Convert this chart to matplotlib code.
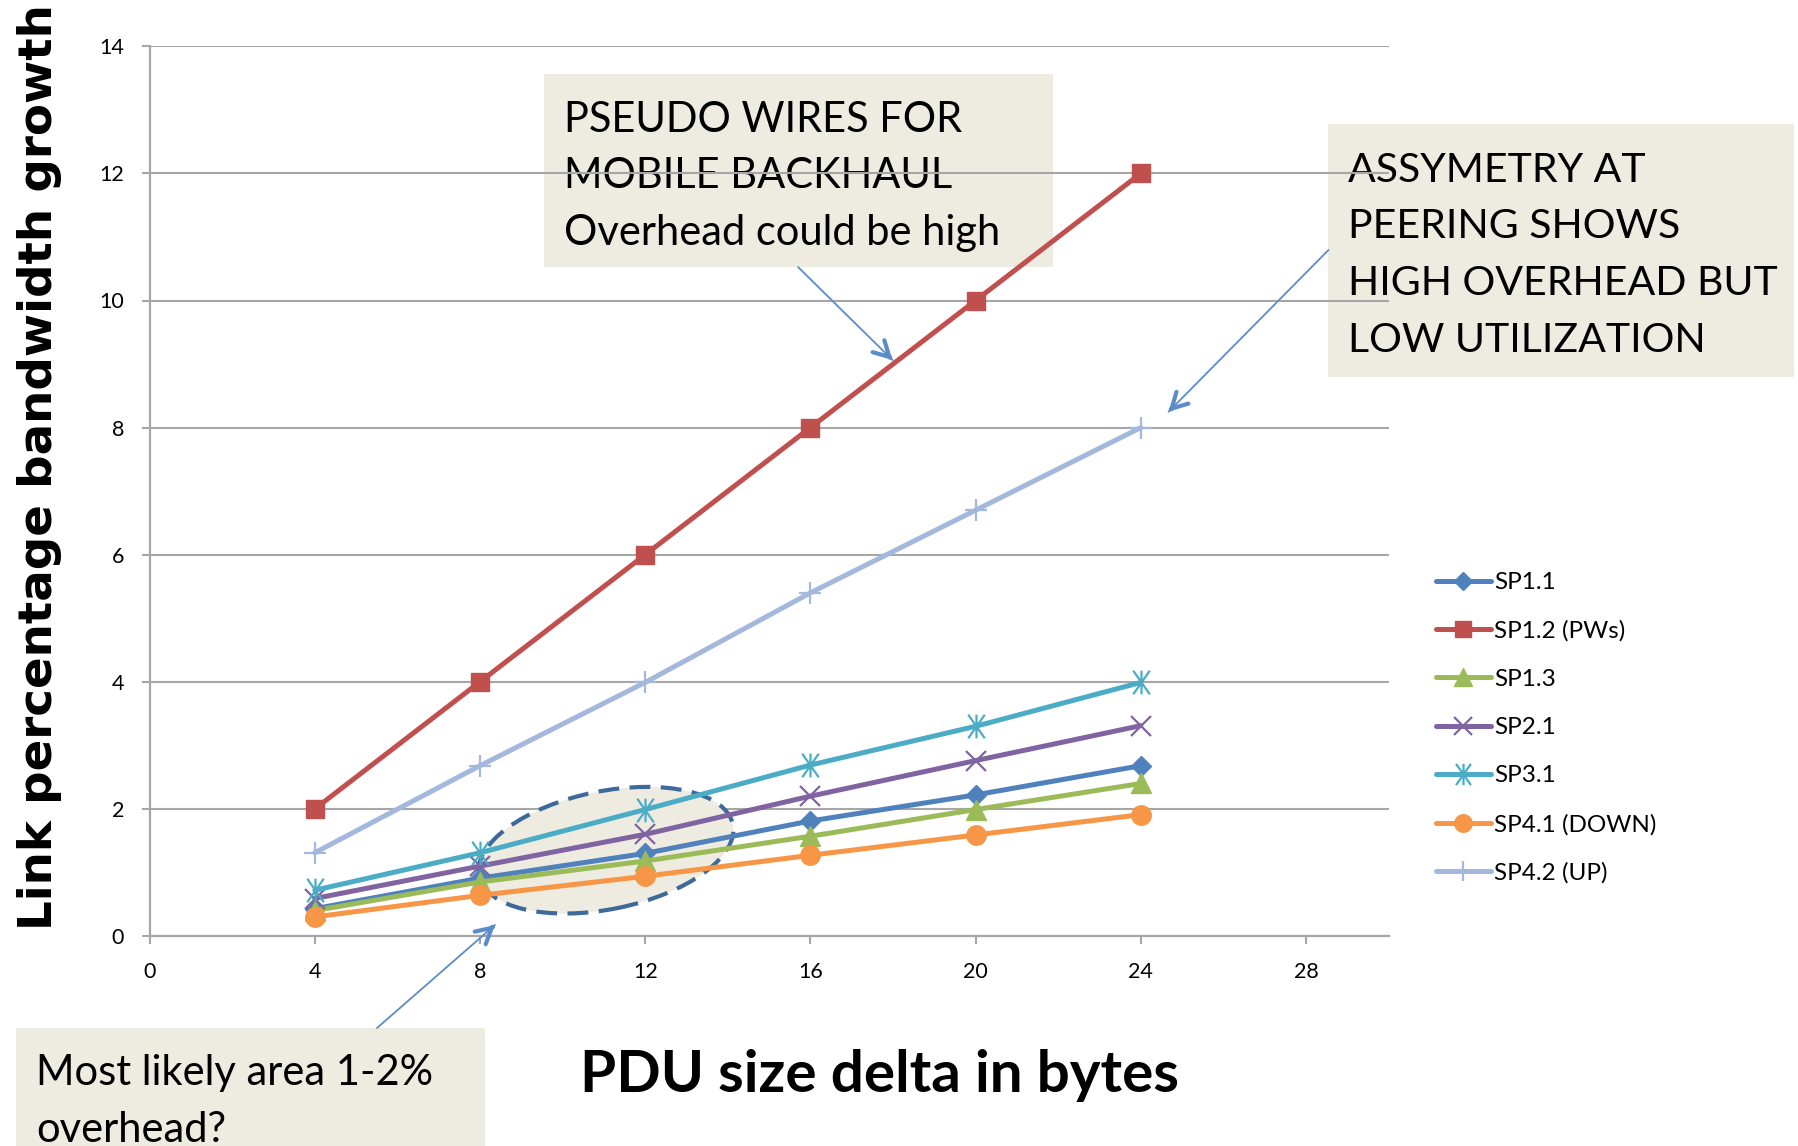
import matplotlib
matplotlib.use('Agg')
import matplotlib.pyplot as plt
from matplotlib.patches import Ellipse, Rectangle, FancyArrowPatch
from matplotlib.path import Path
import matplotlib.transforms as mtransforms

# ---------------- data ----------------
x_bytes = [4, 8, 12, 16, 20, 24]
sp11 = [0.43, 0.91, 1.30, 1.81, 2.22, 2.68]
sp12 = [2.0, 4.0, 6.0, 8.0, 10.0, 12.0]
sp13 = [0.40, 0.85, 1.18, 1.57, 1.99, 2.40]
sp21 = [0.59, 1.10, 1.60, 2.20, 2.76, 3.31]
sp31 = [0.72, 1.31, 1.99, 2.69, 3.30, 3.99]
sp41 = [0.30, 0.64, 0.94, 1.27, 1.59, 1.91]
sp42 = [1.31, 2.68, 3.99, 5.40, 6.70, 8.00]
series_labels = ["SP1.1", "SP1.2 (PWs)", "SP1.3", "SP2.1", "SP3.1", "SP4.1 (DOWN)", "SP4.2 (UP)"]
x_ticks = [0, 4, 8, 12, 16, 20, 24, 28]
y_ticks = [0, 2, 4, 6, 8, 10, 12, 14]

W, H = 1798, 1146
fig = plt.figure(figsize=(W / 100, H / 100), dpi=100)


def fpos(x, y):
    """pixel (from top-left) -> figure fraction"""
    return (x / W, 1 - y / H)


FONT = 'Lato'
BOXC = '#EEECE1'
ARROWC = '#5B8BC9'

# ---------------- axes ----------------
ax = fig.add_axes([149.6 / W, (H - 936) / H, 1239 / W, 889.7 / H])
ax.set_facecolor('none')
ax.set_xlim(0, 30)
ax.set_ylim(0, 14)
ax.set_xticks(x_ticks)
ax.set_yticks(y_ticks)
for s in ['top', 'right']:
    ax.spines[s].set_visible(False)
for s in ['left', 'bottom']:
    ax.spines[s].set_color('#A6A6A6')
    ax.spines[s].set_linewidth(1.6)
ax.set_axisbelow(True)
ax.yaxis.grid(True, color='#A6A6A6', lw=1.5)
ax.tick_params(axis='both', direction='out', length=5.5, width=1.5, color='#A6A6A6',
               labelsize=15.5)
ax.tick_params(axis='x', pad=13.5)
ax.tick_params(axis='y', pad=13)
for lab in ax.get_xticklabels() + ax.get_yticklabels():
    lab.set_family(FONT)

star = Path([(0, -1), (0, 1), (-0.7, -1), (0.7, 1), (-0.7, 1), (0.7, -1)],
            [Path.MOVETO, Path.LINETO] * 3)

styles = [
    dict(color='#4F81BD', marker='D', ms=10, mew=1),
    dict(color='#C0504D', marker='s', ms=13.5, mew=1),
    dict(color='#9BBB59', marker='^', ms=14, mew=1),
    dict(color='#8064A2', marker='x', ms=14, mew=1.6),
    dict(color='#4BACC6', marker=star, ms=17, mew=1.6),
    dict(color='#F79646', marker='o', ms=14, mew=1),
    dict(color='#A3B8DC', marker='+', ms=16, mew=1.6),
]
all_series = [sp11, sp12, sp13, sp21, sp31, sp41, sp42]
handles = []
for i, (vals, lab, st) in enumerate(zip(all_series, series_labels, styles)):
    h, = ax.plot(x_bytes, vals, lw=3.6, label=lab, zorder=3 + i * 0.01,
                 color=st['color'], marker=st['marker'], markersize=st['ms'],
                 markeredgewidth=st['mew'], markerfacecolor=st['color'],
                 markeredgecolor=st['color'], solid_capstyle='round')
    handles.append(h)

# dashed ellipse (size in inches, centre in data coords)
ell_tr = fig.dpi_scale_trans + mtransforms.ScaledTranslation(11.05, 1.35, ax.transData)
ax.add_patch(Ellipse((0, 0), 2.59, 1.18, angle=11.5, transform=ell_tr,
                     facecolor=BOXC, edgecolor='#3D6A9B', lw=3,
                     linestyle=(0, (5, 2.5)), zorder=1))

leg = ax.legend(handles=handles, loc='upper left',
                bbox_to_anchor=fpos(1436, 572), bbox_transform=fig.transFigure,
                frameon=False, prop={'family': FONT, 'size': 17.5},
                handlelength=2.25, handletextpad=0.15, labelspacing=1.12,
                borderpad=0, borderaxespad=0, markerscale=0.9)

# ---------------- axis titles ----------------
fig.text(*fpos(40, 467), "Link percentage bandwidth growth", rotation=90,
         ha='center', va='center', fontsize=33.7, fontweight='bold', family='DejaVu Sans')
fig.text(*fpos(880, 1092), "PDU size delta in bytes", ha='center', va='baseline',
         fontsize=42, fontweight='bold', family=FONT)

# ---------------- annotation boxes ----------------
def box(x0, y0, x1, y1):
    fig.add_artist(Rectangle(fpos(x0, y1), (x1 - x0) / W, (y1 - y0) / H,
                             transform=fig.transFigure, facecolor=BOXC,
                             edgecolor='none', zorder=-2))


def lines(x, baselines, texts, size=30):
    for yb, t in zip(baselines, texts):
        fig.text(*fpos(x, yb), t, ha='left', va='baseline', fontsize=size,
                 family=FONT, zorder=-1)


box(544, 74, 1053, 267)
lines(564, [131.7, 188.4, 245], ["PSEUDO WIRES FOR", "MOBILE BACKHAUL", "Overhead could be high"])
box(1328, 124, 1794, 377)
lines(1348, [181.7, 238.3, 295, 351.7],
      ["ASSYMETRY AT", "PEERING SHOWS", "HIGH OVERHEAD BUT", "LOW UTILIZATION"], size=29.5)
box(16, 1028, 485, 1146)
lines(36, [1085, 1141.7], ["Most likely area 1-2%", "overhead?"])


# ---------------- arrows ----------------
def arrow(start, tip):
    sx, sy = start
    tx, ty = tip
    fig.add_artist(FancyArrowPatch(fpos(sx, sy), fpos(tx, ty), transform=fig.transFigure,
                                   arrowstyle='-', lw=1.3, color=ARROWC, zorder=6,
                                   shrinkA=0, shrinkB=0))
    dx, dy = tx - sx, ty - sy
    n = (dx * dx + dy * dy) ** 0.5
    bx, by = tx - dx / n * 4, ty - dy / n * 4
    fig.add_artist(FancyArrowPatch(fpos(bx, by), fpos(tx, ty), transform=fig.transFigure,
                                   arrowstyle='->,head_length=0.55,head_width=0.3',
                                   mutation_scale=20, lw=3, color=ARROWC, zorder=6,
                                   shrinkA=0, shrinkB=0, capstyle='round',
                                   joinstyle='round'))


arrow((798, 267), (892.5, 360))
arrow((1328.5, 250), (1168.6, 411.7))
arrow((377, 1028), (495, 925))

fig.savefig('out.png', dpi=100)
